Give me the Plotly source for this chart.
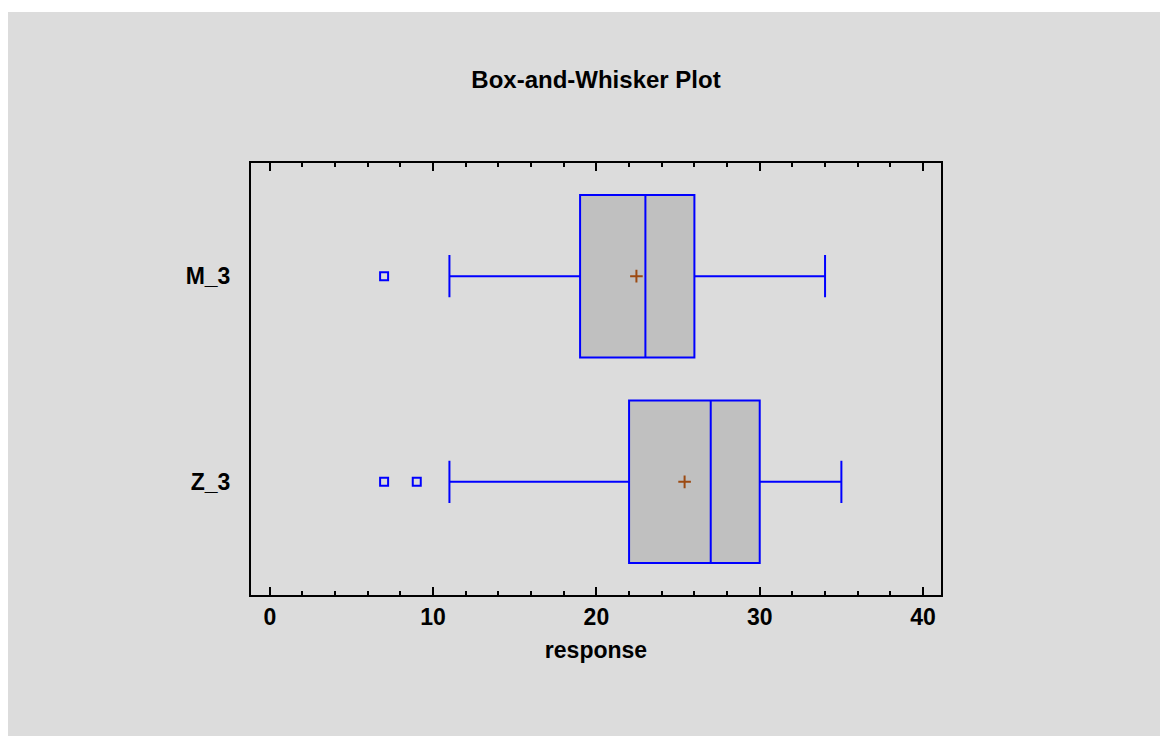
import plotly.graph_objects as go

# ---- data ----
groups = ["M_3", "Z_3"]
q1 = [19, 22]
median = [23, 27]
q3 = [26, 30]
lower_whisker = [11, 11]
upper_whisker = [34, 35]
means = [22.45, 25.4]
outlier_groups = ["M_3", "Z_3", "Z_3"]
outlier_values = [7, 7, 9]

x_ticks = [0, 10, 20, 30, 40]

BLUE = "#0000ff"
FONT = "Liberation Sans, Arial, sans-serif"

fig = go.Figure()

for i, g in enumerate(groups):
    fig.add_trace(go.Box(
        y=[g], q1=[q1[i]], median=[median[i]], q3=[q3[i]],
        lowerfence=[lower_whisker[i]], upperfence=[upper_whisker[i]],
        orientation="h", width=0.79, whiskerwidth=0.26,
        fillcolor="#c0c0c0", line=dict(color=BLUE, width=2),
        boxpoints=False, showlegend=False, hoverinfo="x",
    ))

fig.add_trace(go.Scatter(
    x=outlier_values, y=outlier_groups, mode="markers",
    marker=dict(symbol="square-open", size=8, color=BLUE, line=dict(width=2, color=BLUE)),
    showlegend=False,
))

fig.add_trace(go.Scatter(
    x=means, y=groups, mode="markers",
    marker=dict(symbol="cross-thin", size=9, color="#9c4a12", line=dict(width=2, color="#9c4a12")),
    showlegend=False,
))

W, H = 1168, 736
L, R, T, B = 243, 235, 155, 149
pw, ph = W - L - R, H - T - B

fig.add_shape(
    type="rect", xref="paper", yref="paper", layer="below",
    x0=(0 - L) / pw, x1=(W + 5 - L) / pw,
    y0=(H - B - (H + 5)) / ph, y1=(H - B - 4) / ph,
    fillcolor="#dcdcdc", line=dict(width=0),
)

fig.update_layout(
    width=W, height=H,
    margin=dict(l=L, r=R, t=T, b=B, pad=0),
    paper_bgcolor="white", plot_bgcolor="white",
    font=dict(family=FONT, color="black", size=23),
    title=dict(text="<b>Box-and-Whisker Plot</b>", x=0.5, xref="paper",
               y=1 - 72 / H, yref="container", yanchor="middle", xanchor="center",
               font=dict(size=24, family=FONT, color="black")),
    xaxis=dict(
        range=[-1.15, 41.1], tickvals=x_ticks, ticktext=[f"<b>{v}</b>" for v in x_ticks],
        ticks="inside", ticklen=8, tickwidth=2, tickcolor="black",
        minor=dict(dtick=2, tick0=0, ticks="inside", ticklen=4, tickwidth=2, tickcolor="black"),
        showline=True, linecolor="black", linewidth=2, mirror="ticks",
        showgrid=False, zeroline=False,
        tickfont=dict(size=23, family=FONT),
        title=dict(text="<b>response</b>", standoff=13, font=dict(size=23, family=FONT)),
    ),
    yaxis=dict(
        type="category", categoryorder="array", categoryarray=["Z_3", "M_3"],
        range=[-0.55, 1.55],
        tickvals=groups, ticktext=[f"<b>{g}</b>" for g in groups],
        ticks="", showline=True, linecolor="black", linewidth=2, mirror=True,
        showgrid=False, zeroline=False, ticklabelstandoff=14,
        tickfont=dict(size=23, family=FONT),
    ),
)

fig.write_html("out.html")
